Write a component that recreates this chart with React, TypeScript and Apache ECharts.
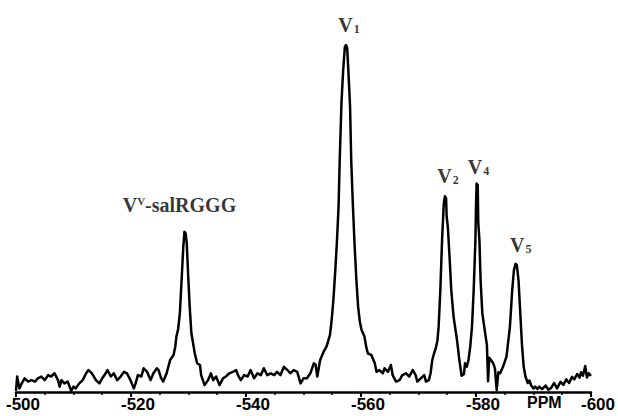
import React, { useEffect, useRef } from 'react';
import * as echarts from 'echarts';

// Spectrum trace (chemical shift in ppm, relative intensity)
const spectrumPpm = [
  -500.0, -500.2, -500.6, -501.0, -501.5, -502.1, -502.7, -503.3, -503.8, -504.4,
  -505.0, -505.6, -506.1, -506.7, -507.3, -507.6, -507.9, -508.4, -509.0, -509.6,
  -510.0, -510.4, -511.0, -511.6, -512.2, -512.6, -513.2, -513.9, -514.5, -515.0,
  -515.6, -515.9, -516.5, -517.0, -517.6, -518.2, -518.8, -519.3, -519.9, -520.5,
  -520.8, -521.2, -521.8, -522.2, -522.8, -523.4, -523.9, -524.5, -524.8, -525.2,
  -525.6, -526.2, -526.8, -527.4, -527.7, -527.9, -528.2, -528.5, -528.8, -529.1,
  -529.3, -529.5, -529.7, -529.9, -530.2, -530.5, -530.8, -531.1, -531.5, -532.0,
  -532.2, -532.8, -533.4, -533.9, -534.3, -534.8, -535.4, -536.0, -536.5, -537.1,
  -537.7, -538.3, -538.6, -539.1, -539.7, -540.3, -540.8, -541.4, -542.0, -542.6,
  -543.1, -543.7, -544.3, -544.9, -545.4, -546.0, -546.6, -547.2, -547.7, -548.3,
  -548.9, -549.5, -550.0, -550.6, -551.2, -551.8, -552.1, -552.4, -552.9, -553.5,
  -554.0, -554.6, -554.9, -555.2, -555.5, -555.8, -556.1, -556.3, -556.6, -556.9,
  -557.2, -557.4, -557.6, -557.8, -558.1, -558.3, -558.6, -558.9, -559.2, -559.5,
  -559.8, -560.1, -560.6, -560.9, -561.2, -561.8, -562.4, -562.7, -563.2, -563.8,
  -564.1, -564.7, -565.2, -565.5, -566.1, -566.7, -567.2, -567.8, -568.4, -569.0,
  -569.5, -569.8, -570.4, -571.0, -571.3, -571.8, -572.1, -572.4, -572.7, -573.0,
  -573.3, -573.5, -573.8, -574.1, -574.4, -574.6, -574.8, -574.9, -575.1, -575.4,
  -575.7, -576.1, -576.7, -577.1, -577.5, -577.9, -578.1, -578.4, -578.7, -579.0,
  -579.3, -579.6, -579.9, -580.0, -580.1, -580.3, -580.4, -580.6, -580.8, -581.1,
  -581.6, -581.9, -582.1, -582.3, -582.6, -583.0, -583.3, -583.6, -583.9, -584.2,
  -584.7, -585.3, -585.9, -586.3, -586.6, -586.9, -587.1, -587.4, -587.7, -588.0,
  -588.3, -588.6, -589.0, -589.3, -589.6, -590.0, -590.3, -590.7, -591.0, -591.5,
  -592.1, -592.6, -593.1, -593.6, -594.1, -594.7, -595.2, -595.7, -596.2, -596.7,
  -597.1, -597.6, -598.0, -598.3, -598.6, -599.0, -599.3, -599.6, -600.0,
];

const spectrumIntensity = [
  0.3, 4.3, 1.0, 2.4, 3.8, 2.9, 3.3, 2.9, 3.8, 4.3,
  3.3, 4.7, 4.3, 5.2, 3.3, 1.5, 3.3, 2.4, 2.9, 0.3,
  1.5, 1.0, 2.4, 3.3, 5.2, 6.1, 5.2, 3.3, 2.4, 3.8,
  5.2, 6.1, 4.3, 5.2, 3.3, 4.3, 5.6, 5.2, 3.3, 1.0,
  2.4, 4.7, 4.3, 6.6, 5.6, 3.3, 5.2, 6.6, 6.1, 4.0,
  2.9, 5.2, 8.9, 10.3, 12.6, 15.4, 17.5, 21.9, 31.1, 40.4,
  44.5, 44.1, 41.3, 33.9, 24.0, 16.3, 13.5, 10.7, 8.0, 7.5,
  4.7, 1.9, 3.3, 5.2, 3.3, 4.3, 1.9, 3.8, 4.3, 5.2,
  5.6, 6.1, 4.7, 3.3, 4.7, 4.3, 6.1, 3.8, 5.2, 4.7,
  6.6, 4.7, 5.2, 4.7, 5.6, 4.7, 7.0, 6.1, 5.2, 6.1,
  5.6, 2.4, 3.8, 3.8, 5.2, 8.0, 7.6, 4.3, 8.9, 11.2,
  12.6, 15.8, 20.0, 25.6, 33.0, 41.3, 51.5, 64.4, 80.2, 89.4,
  95.9, 96.4, 95.5, 89.4, 79.3, 64.4, 51.5, 40.4, 31.1, 23.7,
  19.5, 17.2, 15.4, 12.6, 10.7, 10.3, 8.0, 5.6, 6.1, 5.2,
  6.6, 5.6, 7.5, 4.7, 2.9, 3.3, 4.7, 5.2, 4.3, 6.1,
  4.7, 2.9, 3.8, 4.7, 2.9, 3.3, 5.2, 8.9, 10.7, 12.1,
  14.4, 18.1, 28.3, 42.2, 52.4, 54.4, 53.8, 48.7, 45.9, 37.6,
  28.3, 20.9, 14.4, 9.0, 4.5, 5.0, 8.0, 7.0, 8.9, 12.6,
  18.1, 28.3, 42.2, 51.5, 57.9, 57.5, 46.9, 42.2, 31.1, 21.9,
  16.3, 13.0, 3.0, 9.5, 8.9, 8.0, 6.5, 0.5, 5.5, 5.2,
  7.0, 9.8, 18.1, 28.3, 33.9, 35.6, 35.3, 31.0, 22.0, 13.0,
  7.0, 4.3, 2.5, 3.2, 1.8, 1.0, 1.5, 0.8, 1.5, 0.8,
  1.8, 0.6, 1.2, 2.5, 1.0, 2.8, 2.0, 3.5, 2.5, 4.2,
  3.5, 5.0, 4.0, 5.5, 4.5, 7.2, 4.0, 5.2, 4.5,
];

// Peak annotations
const peakPpm = [-529.3, -557.4, -574.6, -580.1, -586.9];
const peakIntensity = [44.5, 96.4, 54.4, 57.9, 35.6];
const peakMain = ['V', 'V', 'V', 'V', 'V'];
const peakSup = ['V', '', '', '', ''];
const peakSub = ['', '1', '2', '4', '5'];
const peakRest = ['-salRGGG', '', '', '', ''];
const peakLabelOffsets = [
  [-5, -16.5],
  [3, -9.5],
  [3, -10.5],
  [2, -6.5],
  [5, -8.5],
];

const axisMin = -600;
const axisMax = -500;
const axisInterval = 20;
const axisTitle = 'PPM';

export default function App() {
  const ref = useRef<HTMLDivElement>(null);

  useEffect(() => {
    if (!ref.current) return;
    const chart = echarts.init(ref.current, null, { renderer: 'svg' });

    const lineData = spectrumPpm.map((p, i) => [p, spectrumIntensity[i]]);

    const labelData = peakPpm.map((p, i) => {
      let text = '{v|' + peakMain[i] + '}';
      if (peakSup[i]) text += '{p|' + peakSup[i] + '}';
      if (peakSub[i]) text += '{s|' + peakSub[i] + '}';
      if (peakRest[i]) text += '{v|' + peakRest[i] + '}';
      return {
        value: [p, peakIntensity[i]],
        label: {
          formatter: text,
          offset: peakLabelOffsets[i],
        },
      };
    });

    const serif = '"Liberation Serif", "Times New Roman", serif';
    const sans = '"Liberation Sans", Arial, sans-serif';

    chart.setOption({
      animation: false,
      backgroundColor: '#ffffff',
      grid: { left: 16, right: 21, top: 32, bottom: 24, containLabel: false },
      xAxis: {
        type: 'value',
        inverse: true,
        min: axisMin,
        max: axisMax,
        interval: axisInterval,
        splitLine: { show: false },
        axisLine: { show: true, onZero: false, lineStyle: { color: '#000', width: 2.5 } },
        axisTick: { show: true, length: 5, lineStyle: { color: '#000', width: 2 } },
        minorTick: { show: true, splitNumber: 4, length: 3, lineStyle: { color: '#000', width: 1.5 } },
        axisLabel: {
          show: true,
          showMinLabel: true,
          showMaxLabel: true,
          color: '#000',
          fontFamily: sans,
          fontWeight: 'bold',
          fontSize: 17,
          margin: 4,
          padding: [0, 0, 0, 14],
        },
      },
      yAxis: {
        type: 'value',
        min: 0,
        max: 100,
        show: false,
      },
      graphic: [
        {
          type: 'text',
          left: 527,
          top: 394,
          style: {
            text: axisTitle,
            fill: '#000',
            font: 'bold 16px ' + sans,
          },
        },
      ],
      series: [
        {
          type: 'line',
          data: lineData,
          showSymbol: false,
          symbol: 'none',
          silent: true,
          lineStyle: { color: '#000', width: 2.5, join: 'round' },
          z: 2,
        },
        {
          type: 'scatter',
          data: labelData,
          symbolSize: 0,
          silent: true,
          z: 3,
          label: {
            show: true,
            position: 'top',
            distance: 0,
            color: '#000',
            rich: {
              v: { fontFamily: serif, fontWeight: 'bold', fontSize: 20, lineHeight: 20, verticalAlign: 'top', color: '#000' },
              p: { fontFamily: serif, fontWeight: 'bold', fontSize: 11, lineHeight: 11, verticalAlign: 'top', color: '#000' },
              s: { fontFamily: serif, fontWeight: 'bold', fontSize: 12, lineHeight: 12, verticalAlign: 'bottom', padding: [12, 0, 0, 1], color: '#000' },
            },
          },
        },
      ],
    });

    return () => {
      chart.dispose();
    };
  }, []);

  return (
    <div
      ref={ref}
      style={{ position: 'fixed', left: 0, top: 0, width: 618, height: 416, background: '#fff' }}
    />
  );
}
